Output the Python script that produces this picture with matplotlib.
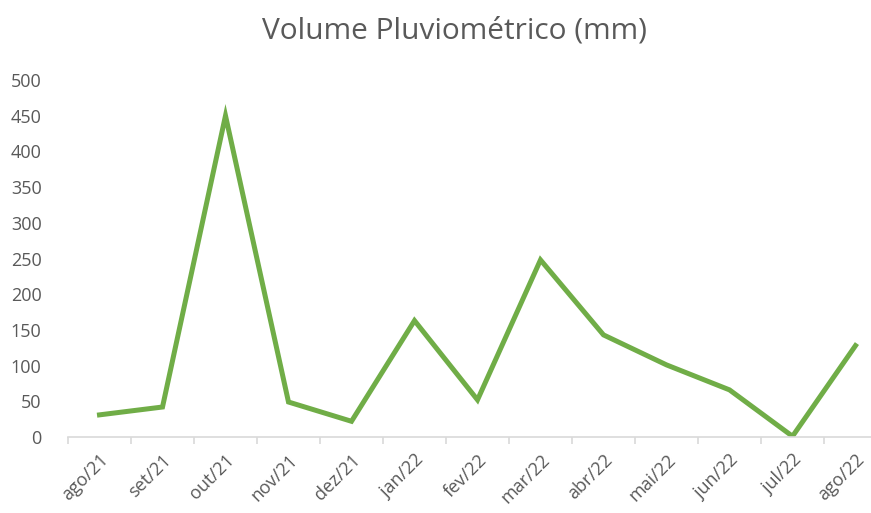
import matplotlib.pyplot as plt
import numpy as np

# Monthly rainfall volume (mm)
months = ['ago/21', 'set/21', 'out/21', 'nov/21', 'dez/21', 'jan/22', 'fev/22',
          'mar/22', 'abr/22', 'mai/22', 'jun/22', 'jul/22', 'ago/22']
rain_mm = [31, 42, 450, 49, 22, 163, 52, 248, 143, 101, 66, 1, 128]

plt.rcParams['font.family'] = ['Open Sans', 'DejaVu Sans']

fig = plt.figure(figsize=(8.71, 5.13), dpi=100)
ax = fig.add_axes([68 / 871, 1 - 437 / 513, 819 / 871, (437 - 80) / 513])

x = np.arange(len(months))
ax.plot(x, rain_mm, color='#70AD47', linewidth=3.6, solid_joinstyle='miter')

ax.set_xlim(-0.5, len(months) - 0.5)
ax.set_ylim(0, 500)
ax.set_yticks(np.arange(0, 501, 50))
ax.set_xticks(x)
ax.set_xticklabels(months, rotation=45, ha='right', rotation_mode='anchor')
ax.set_xticks(np.arange(-0.5, len(months)), minor=True)

for s in ['top', 'right', 'left']:
    ax.spines[s].set_visible(False)
ax.spines['bottom'].set_color('#D9D9D9')
ax.spines['bottom'].set_linewidth(1.2)

ax.tick_params(axis='y', length=0, labelsize=13, labelcolor='#595959', pad=19)
ax.tick_params(axis='x', which='major', length=0, labelsize=13, labelcolor='#595959', pad=10)
ax.tick_params(axis='x', which='minor', length=5, width=1.2, color='#D9D9D9')

fig.text(455 / 871, 1 - 31 / 513, 'Volume Pluviométrico (mm)', ha='center', va='center',
         fontsize=21.5, color='#595959')

fig.savefig('out.png', dpi=100)
